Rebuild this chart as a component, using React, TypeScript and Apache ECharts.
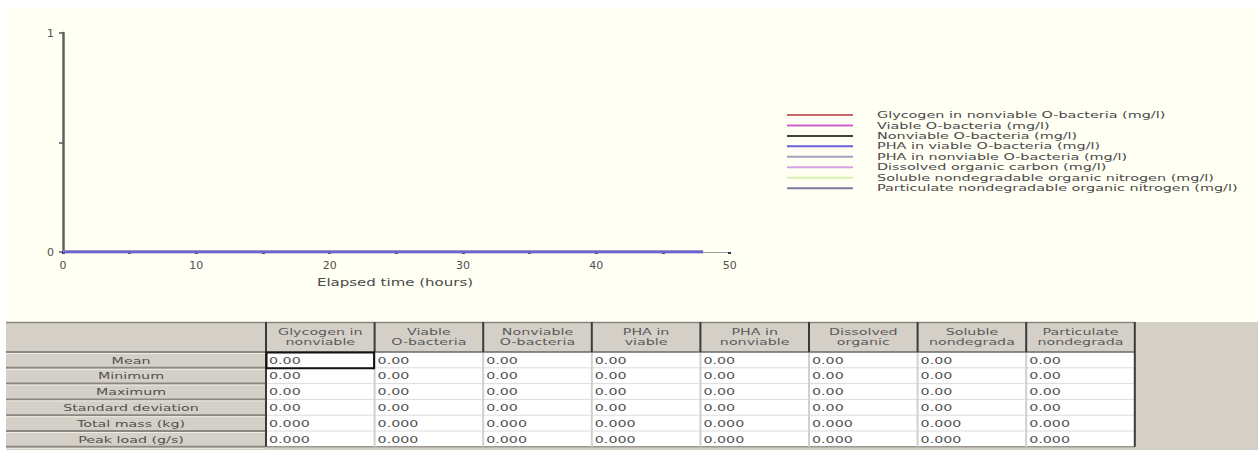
import React, { useEffect, useRef } from 'react';
import * as echarts from 'echarts';

// ---------- data ----------
const timeHours = [0, 48];
const glycogenNonviable = [0, 0];
const viableOBacteria = [0, 0];
const nonviableOBacteria = [0, 0];
const phaViable = [0, 0];
const phaNonviable = [0, 0];
const dissolvedOrganicCarbon = [0, 0];
const solubleNondegradableN = [0, 0];
const particulateNondegradableN = [0, 0];

const seriesNames = [
  'Glycogen in nonviable O-bacteria (mg/l)',
  'Viable O-bacteria (mg/l)',
  'Nonviable O-bacteria (mg/l)',
  'PHA in viable O-bacteria (mg/l)',
  'PHA in nonviable O-bacteria (mg/l)',
  'Dissolved organic carbon (mg/l)',
  'Soluble nondegradable organic nitrogen (mg/l)',
  'Particulate nondegradable organic nitrogen (mg/l)',
];
const seriesValues = [
  glycogenNonviable,
  viableOBacteria,
  nonviableOBacteria,
  phaViable,
  phaNonviable,
  dissolvedOrganicCarbon,
  solubleNondegradableN,
  particulateNondegradableN,
];
const seriesColors = ['#c86a6a', '#d060d0', '#3c443c', '#6a62d8', '#a4a4bc', '#d8a4e4', '#d8f0b0', '#7a7aa4'];

const xTickMin = 0;
const xTickMax = 50;
const xTickStep = 10;
const yTickMin = 0;
const yTickMax = 1;
const yTickStep = 0.5;
const xAxisTitle = 'Elapsed time (hours)';

const rowLabels = ['Mean', 'Minimum', 'Maximum', 'Standard deviation', 'Total mass (kg)', 'Peak load (g/s)'];
const headerLine1 = ['Glycogen in', 'Viable', 'Nonviable', 'PHA in', 'PHA in', 'Dissolved', 'Soluble', 'Particulate'];
const headerLine2 = ['nonviable', 'O-bacteria', 'O-bacteria', 'viable', 'nonviable', 'organic', 'nondegrada', 'nondegrada'];
const meanValues = [0, 0, 0, 0, 0, 0, 0, 0];
const minimumValues = [0, 0, 0, 0, 0, 0, 0, 0];
const maximumValues = [0, 0, 0, 0, 0, 0, 0, 0];
const stdDevValues = [0, 0, 0, 0, 0, 0, 0, 0];
const totalMassValues = [0, 0, 0, 0, 0, 0, 0, 0];
const peakLoadValues = [0, 0, 0, 0, 0, 0, 0, 0];
const tableRows = [meanValues, minimumValues, maximumValues, stdDevValues, totalMassValues, peakLoadValues];
const rowDecimals = [2, 2, 2, 2, 3, 3];

// ---------- layout / style ----------
const FONT = '"DejaVu Sans", Verdana, sans-serif';
const SX = 1.5;
const CREAM = '#fffff4';
const GREY = '#d4d0c8';
const TEXT = '#4a4a4a';

const tableTop = 322;
const headerBottom = 352;
const rowH = 15.8;
const rowHeadX0 = 6;
const colX0 = 266;
const colW = 108.6;

function txt(text: string, x: number, y: number, align: string, size = 10, fill = TEXT) {
  return {
    type: 'text',
    x,
    y,
    scaleX: SX,
    silent: true,
    style: {
      text,
      fontSize: size,
      fontFamily: FONT,
      fill,
      align,
      verticalAlign: 'middle',
      textAlign: align,
      textVerticalAlign: 'middle',
    },
  };
}
function line(x1: number, y1: number, x2: number, y2: number, stroke: string, w: number) {
  return { type: 'line', silent: true, shape: { x1, y1, x2, y2 }, style: { stroke, lineWidth: w } };
}
function rect(x: number, y: number, width: number, height: number, fill: string, stroke?: string, w = 0) {
  return {
    type: 'rect',
    silent: true,
    shape: { x, y, width, height },
    style: { fill, stroke: stroke || 'none', lineWidth: w },
  };
}

function buildGraphic() {
  const els: any[] = [];
  // page margins
  els.push(rect(0, 0, 1258, 8, '#ffffff'));
  els.push(rect(0, 0, 6, tableTop, '#ffffff'));

  // legend
  const legX0 = 787;
  const legX1 = 853;
  const legTextX = 877;
  const legY0 = 115;
  const legStep = 10.45;
  seriesNames.forEach((name, i) => {
    const y = legY0 + i * legStep;
    els.push(line(legX0, y, legX1, y, seriesColors[i], 2));
    els.push(txt(name, legTextX, y, 'left', 9.6));
  });

  // axis title
  els.push(txt(xAxisTitle, 395, 282, 'center', 10));

  // table background
  const nCols = headerLine1.length;
  const tableBottom = headerBottom + rowLabels.length * rowH;
  const colRight = colX0 + nCols * colW;
  els.push(rect(0, tableTop, 1258, 450 - tableTop, '#ffffff'));
  els.push(rect(rowHeadX0, tableTop, 1258 - rowHeadX0, 450 - tableTop, GREY));
  // white data area
  els.push(rect(colX0, headerBottom, colRight - colX0, tableBottom - headerBottom, '#ffffff'));
  // top line
  els.push(line(rowHeadX0, tableTop + 0.5, colRight, tableTop + 0.5, '#8a8680', 1.5));

  // data grid horizontal lines
  for (let r = 1; r < rowLabels.length; r++) {
    const y = headerBottom + r * rowH;
    els.push(line(colX0, y, colRight, y, '#dcdcdc', 1));
  }
  els.push(line(colX0, tableBottom, colRight, tableBottom, '#9a9890', 1.5));
  // data grid vertical lines (light)
  for (let c = 1; c < nCols; c++) {
    const x = colX0 + c * colW;
    els.push(line(x, headerBottom, x, tableBottom, '#d0d0d0', 2));
  }
  // header bottom line
  els.push(line(colX0, headerBottom, colRight, headerBottom, '#6a6a6a', 1.5));
  // header vertical separators (dark)
  for (let c = 1; c < nCols; c++) {
    const x = colX0 + c * colW;
    els.push(line(x, tableTop, x, headerBottom, '#3a3a3a', 2));
  }
  els.push(line(colX0, tableTop, colX0, tableBottom, '#3a3a3a', 2));
  els.push(line(colRight, tableTop, colRight, tableBottom, '#3a3a3a', 2));

  // row header separators
  for (let r = 0; r <= rowLabels.length; r++) {
    const y = headerBottom + r * rowH;
    els.push(line(rowHeadX0, y, colX0 - 1, y, '#8a8680', 2));
    els.push(line(rowHeadX0, y + 1.5, colX0 - 1, y + 1.5, '#eeece6', 1));
  }

  // header text
  headerLine1.forEach((h, c) => {
    const cx = colX0 + c * colW + colW / 2;
    els.push(txt(h, cx, 332, 'center', 9.5, '#5a5a5a'));
    els.push(txt(headerLine2[c], cx, 342, 'center', 9.5, '#5a5a5a'));
  });

  // row labels and values
  rowLabels.forEach((label, r) => {
    const cy = headerBottom + r * rowH + rowH / 2 + 0.5;
    els.push(txt(label, 131, cy, 'center', 9.5, '#505050'));
    tableRows[r].forEach((v, c) => {
      els.push(txt(v.toFixed(rowDecimals[r]), colX0 + c * colW + 3, cy, 'left', 9.5, '#505050'));
    });
  });

  // selected cell
  els.push(rect(colX0 + 0.5, headerBottom + 0.5, colW - 1, rowH, 'none', '#111111', 2));
  return els;
}

const option: any = {
  animation: false,
  backgroundColor: CREAM,
  textStyle: { fontFamily: FONT },
  grid: { left: 63, top: 33, right: 1258 - 729.7, bottom: 450 - 252, containLabel: false },
  xAxis: {
    type: 'value',
    min: xTickMin,
    max: xTickMax,
    interval: xTickStep,
    axisLine: { show: true, onZero: false, lineStyle: { color: '#9a9a9a', width: 1 } },
    axisTick: { show: true, length: 2, lineStyle: { color: '#30305a', width: 3 } },
    minorTick: { show: true, splitNumber: 2, length: 2, lineStyle: { color: '#30305a', width: 3 } },
    splitLine: { show: false },
    minorSplitLine: { show: false },
    axisLabel: { fontSize: 11, color: '#505050', margin: 8, fontFamily: FONT },
  },
  yAxis: {
    type: 'value',
    min: yTickMin,
    max: yTickMax,
    interval: yTickStep,
    axisLine: { show: true, lineStyle: { color: '#5e5e5e', width: 2.5 } },
    axisTick: { show: true, length: 4, lineStyle: { color: '#555555', width: 1.5 } },
    splitLine: { show: false },
    axisLabel: {
      fontSize: 11,
      color: '#505050',
      margin: 9,
      fontFamily: FONT,
      formatter: (v: number) => (v === 0 || v === 1 ? String(v) : ''),
    },
  },
  series: seriesNames.map((name, i) => ({
    name,
    type: 'line',
    showSymbol: false,
    symbol: 'none',
    z: i === 3 ? 5 : 2,
    lineStyle: { color: seriesColors[i], width: 2.5 },
    itemStyle: { color: seriesColors[i] },
    data: timeHours.map((t, k) => [t, seriesValues[i][k]]),
  })),
  graphic: { elements: buildGraphic() },
};

export default function App() {
  const ref = useRef<HTMLDivElement>(null);
  useEffect(() => {
    const chart = echarts.init(ref.current!, null, { renderer: 'svg' });
    chart.setOption(option);
    return () => chart.dispose();
  }, []);
  return <div ref={ref} style={{ position: 'absolute', left: 0, top: 0, width: 1258, height: 450 }} />;
}
